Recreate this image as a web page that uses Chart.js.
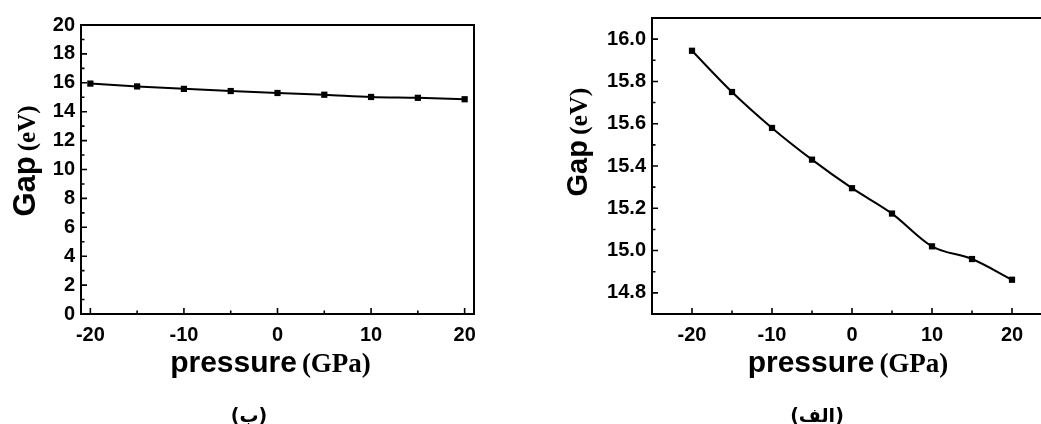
<!DOCTYPE html>
<html><head><meta charset="utf-8">
<script src="https://cdn.jsdelivr.net/npm/chart.js@4.4.1/dist/chart.umd.min.js"></script>
<style>
html,body{margin:0;padding:0;width:1041px;height:424px;overflow:hidden;background:#fff;}
#w1{position:absolute;left:0;top:0;width:520px;height:424px;}
#w2{position:absolute;left:520px;top:0;width:560px;height:424px;}
.cap{position:absolute;font-family:"DejaVu Sans",sans-serif;font-weight:bold;font-size:19px;color:#000;transform:translate(-50%,-50%);white-space:nowrap;}
</style></head><body>
<div id="w1"><canvas id="c1" width="520" height="424"></canvas></div>
<div id="w2"><canvas id="c2" width="560" height="424"></canvas></div>
<div class="cap" dir="rtl" style="left:249px;top:415px;">(ب)</div>
<div class="cap" dir="rtl" style="left:817px;top:415px;">(الف)</div>
<script>
// ---- data ----
const pressure = [-20, -15, -10, -5, 0, 5, 10, 15, 20];
const gap = [15.945, 15.75, 15.58, 15.43, 15.295, 15.175, 15.02, 14.96, 14.862];
const xTickLabels = [-20, -10, 0, 10, 20];
const leftYTickLabels = [0, 2, 4, 6, 8, 10, 12, 14, 16, 18, 20];
const rightYTickLabels = [14.8, 15.0, 15.2, 15.4, 15.6, 15.8, 16.0];
const xTitle = ["pressure", "(GPa)"];
const yTitle = ["Gap", "(eV)"];

const SANS = '"Liberation Sans", Arial, sans-serif';
const SERIF = '"Liberation Serif", "Times New Roman", serif';
const TICKFONT = '"Liberation Sans", Arial, sans-serif';

const framePlugin = {
  id: 'frameTicks',
  beforeDatasetsDraw(chart, args, o) {
    const {ctx, chartArea: a, scales: {x, y}} = chart;
    ctx.save();
    ctx.strokeStyle = '#000';
    ctx.lineWidth = 2;
    ctx.strokeRect(a.left, a.top, a.right - a.left, a.bottom - a.top);
    ctx.lineWidth = 1.6;
    ctx.beginPath();
    const eps = 1e-6;
    for (let k = 0; ; k++) {
      const v = o.yFirst + k * o.yMinor;
      if (v > y.max + eps) break;
      const major = Math.abs(Math.round(v / o.yMajor) * o.yMajor - v) < eps;
      const py = y.getPixelForValue(v);
      ctx.moveTo(a.left, py); ctx.lineTo(a.left + (major ? 6 : 3.5), py);
    }
    for (let k = 0; ; k++) {
      const v = o.xFirst + k * o.xMinor;
      if (v > x.max + eps) break;
      const major = Math.abs(Math.round(v / o.xMajor) * o.xMajor - v) < eps;
      const px = x.getPixelForValue(v);
      ctx.moveTo(px, a.bottom); ctx.lineTo(px, a.bottom - (major ? 6 : 3.5));
    }
    ctx.stroke();
    ctx.restore();
  },
  afterDraw(chart, args, o) {
    const {ctx, chartArea: a} = chart;
    ctx.save();
    ctx.fillStyle = '#000';
    ctx.textBaseline = 'alphabetic';
    ctx.textAlign = 'left';
    // x title
    const f1 = 'bold 30px ' + SANS, f2 = 'bold 27px ' + SERIF;
    ctx.font = f1; const w1 = ctx.measureText(xTitle[0]).width;
    ctx.font = f2; const w2 = ctx.measureText(xTitle[1]).width;
    const gapX = 5;
    let sx = (a.left + a.right) / 2 + o.xTitleDx - (w1 + gapX + w2) / 2;
    ctx.font = f1; ctx.fillText(xTitle[0], sx, o.xTitleBase);
    ctx.font = f2; ctx.fillText(xTitle[1], sx + w1 + gapX, o.xTitleBase);
    // y title (rotated)
    const g1 = 'bold ' + o.yF1 + 'px ' + SANS, g2 = 'bold ' + o.yF2 + 'px ' + SERIF;
    ctx.font = g1; const v1 = ctx.measureText(yTitle[0]).width;
    ctx.font = g2; const v2 = ctx.measureText(yTitle[1]).width;
    ctx.translate(a.left + o.yTitleDx, o.yTitleCenter);
    ctx.rotate(-Math.PI / 2);
    let sy = -(v1 + gapX + v2) / 2;
    ctx.font = g1; ctx.fillText(yTitle[0], sy, 0);
    ctx.font = g2; ctx.fillText(yTitle[1], sy + v1 + gapX, 0);
    ctx.restore();
  }
};

function makeChart(id, cfg) {
  return new Chart(document.getElementById(id), {
    type: 'line',
    data: {
      datasets: [{
        data: pressure.map((p, i) => ({x: p, y: gap[i]})),
        borderColor: '#000',
        backgroundColor: '#000',
        borderWidth: 2,
        pointStyle: 'rect',
        pointRadius: 4.4,
        pointBorderWidth: 0,
        cubicInterpolationMode: 'monotone',
        fill: false
      }]
    },
    options: {
      responsive: false,
      animation: false,
      layout: {padding: {left: 0, top: cfg.top, right: cfg.right, bottom: 0}},
      plugins: {legend: {display: false}, tooltip: {enabled: false}, frameTicks: cfg.frame},
      scales: {
        x: {
          type: 'linear', min: cfg.xMin, max: cfg.xMax,
          grid: {display: false, drawTicks: false},
          border: {display: false},
          afterFit: s => { s.height = 110; },
          afterBuildTicks: s => { s.ticks = xTickLabels.map(v => ({value: v})); },
          ticks: {padding: 9, color: '#000', font: {family: TICKFONT, weight: 'bold', size: 20},
                  maxRotation: 0, autoSkip: false, callback: v => String(v)}
        },
        y: {
          type: 'linear', min: cfg.yMin, max: cfg.yMax,
          grid: {display: false, drawTicks: false},
          border: {display: false},
          afterFit: s => { s.width = cfg.yWidth; },
          afterBuildTicks: s => { s.ticks = cfg.yTicks.map(v => ({value: v})); },
          ticks: {padding: 6, color: '#000', font: {family: TICKFONT, weight: 'bold', size: 20},
                  autoSkip: false, callback: cfg.yFmt}
        }
      }
    },
    plugins: [framePlugin]
  });
}

makeChart('c1', {
  top: 25, right: 46, yWidth: 81,
  xMin: -21, xMax: 21, yMin: 0, yMax: 20,
  yTicks: leftYTickLabels, yFmt: v => String(v),
  frame: {yFirst: 0, yMinor: 1, yMajor: 2, xFirst: -20, xMinor: 5, xMajor: 10,
          xTitleDx: -7, xTitleBase: 372, yTitleDx: -46, yTitleCenter: 161, yF1: 31, yF2: 25}
});

makeChart('c2', {
  top: 18, right: 28, yWidth: 132,
  xMin: -25, xMax: 25, yMin: 14.7, yMax: 16.1,
  yTicks: rightYTickLabels, yFmt: v => Number(v).toFixed(1),
  frame: {yFirst: 14.7, yMinor: 0.1, yMajor: 0.2, xFirst: -25, xMinor: 5, xMajor: 10,
          xTitleDx: -4, xTitleBase: 372, yTitleDx: -65, yTitleCenter: 142, yF1: 29, yF2: 26}
});
</script>
</body></html>
